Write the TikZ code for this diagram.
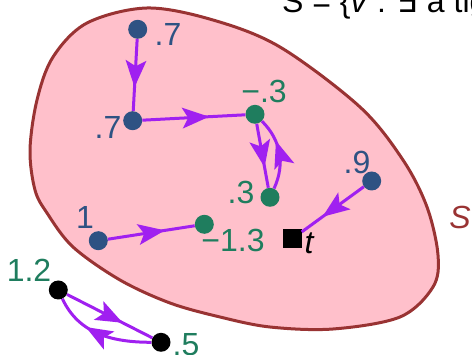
\documentclass[tikz,border=0pt]{standalone}
\usepackage{fontspec}
\setmainfont{Liberation Sans}
\newfontfamily\symfont{DejaVu Sans}
\usetikzlibrary{decorations.markings}
\definecolor{nodeblue}{HTML}{2E5283}
\definecolor{nodegreen}{HTML}{1F7D5E}
\definecolor{arrowpurple}{HTML}{A020F0}
\definecolor{blobfill}{HTML}{FFC0CB}
\definecolor{blobedge}{HTML}{993333}
\begin{document}
\begin{tikzpicture}[x=1pt,y=-1pt,
  dotbase/.style={circle,inner sep=0pt,minimum size=19pt},
  bluedot/.style={dotbase,fill=nodeblue},
  greendot/.style={dotbase,fill=nodegreen},
  blackdot/.style={dotbase,fill=black},
  lbl/.style={font=\fontsize{32}{36}\selectfont,inner sep=0pt},
  flow/.style={draw=arrowpurple,line width=3pt,postaction={decorate},
    decoration={markings,mark=at position 0.6 with {\fill[arrowpurple] (5pt,0pt) -- (-22pt,10.5pt) -- (-16pt,0pt) -- (-22pt,-10.5pt) -- cycle;}}},
]
\useasboundingbox (0,0) rectangle (472,355);
\clip (0,0) rectangle (472,355);
% region S
\draw[fill=blobfill,draw=blobedge,line width=3pt] plot[smooth cycle,tension=0.55] coordinates {
 (30,150) (37,100) (53,57) (87,23) (147,8) (213,20) (280,47) (360,107) (403,160) (427,207) (438,255) (433,287) (400,317) (333,329) (270,327) (220,317) (170,303) (120,280) (73,247) (47,213) (35,190)};
% title (cut off)
\node[lbl,anchor=base west] (title) at (282,13) {S = \{\textit{v} : {\symfont ∃} a tight};
\node[lbl,text=blobedge,font=\fontsize{32}{36}\selectfont\itshape] (slabel) at (460,217) {S};
% nodes
\node[bluedot] (a) at (137.7,29.3) {};
\node[bluedot] (b) at (132.7,120.7) {};
\node[greendot] (c) at (255,114.3) {};
\node[greendot] (d) at (270,197.3) {};
\node[bluedot] (e) at (371.7,181) {};
\node[fill=black,minimum size=19pt,inner sep=0pt] (t) at (292,239) {};
\node[bluedot] (f) at (98.3,240.7) {};
\node[greendot] (g) at (204.3,224.3) {};
\node[blackdot] (h) at (58.3,290) {};
\node[blackdot] (i) at (161,342.3) {};
% labels
\node[lbl,text=nodeblue] (la) at (168,34) {.7};
\node[lbl,text=nodeblue] (lb) at (108,127) {.7};
\node[lbl,text=nodegreen] (lc) at (264,91) {−.3};
\node[lbl,text=nodegreen] (ld) at (241,192) {.3};
\node[lbl,text=nodeblue] (le) at (357,162) {.9};
\node[lbl,font=\fontsize{32}{36}\selectfont\itshape] (lt) at (309,243) {t};
\node[lbl,text=nodeblue] (lf) at (85,217) {1};
\node[lbl,text=nodegreen] (lg) at (233,240) {−1.3};
\node[lbl,text=nodegreen] (lh) at (29,270) {1.2};
\node[lbl,text=nodegreen] (li) at (186,345) {.5};
% edges
\draw[flow] (a) -- (b);
\draw[flow] (b) -- (c);
\draw[flow] (c) -- (d);
\draw[flow] (d) to[bend right=35] (c);
\draw[flow] (e) -- (t);
\draw[flow] (f) -- (g);
\draw[flow] (h) -- (i);
\draw[flow] (i) to[out=180,in=-65] (h);
\end{tikzpicture}
\end{document}
